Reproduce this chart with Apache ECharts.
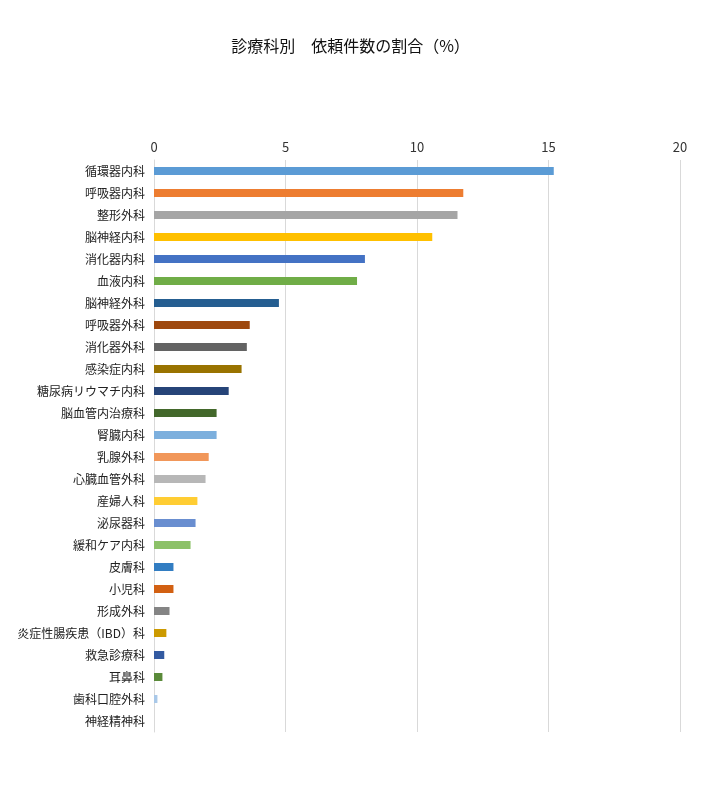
<!DOCTYPE html>
<html>
<head>
<meta charset="utf-8">
<script src="https://cdn.jsdelivr.net/npm/echarts@6/dist/echarts.min.js"></script>
<style>
html,body{margin:0;padding:0;background:#fff;}
#c{width:701px;height:790px;}
</style>
</head>
<body>
<div id="c"></div>
<script>
const categories = ['循環器内科','呼吸器内科','整形外科','脳神経内科','消化器内科','血液内科','脳神経外科','呼吸器外科','消化器外科','感染症内科','糖尿病リウマチ内科','脳血管内治療科','腎臓内科','乳腺外科','心臓血管外科','産婦人科','泌尿器科','緩和ケア内科','皮膚科','小児科','形成外科','炎症性腸疾患（IBD）科','救急診療科','耳鼻科','歯科口腔外科','神経精神科'];
const values = [15.2,11.76,11.54,10.58,8.02,7.72,4.75,3.64,3.53,3.33,2.84,2.38,2.38,2.08,1.96,1.65,1.58,1.39,0.74,0.74,0.59,0.47,0.39,0.32,0.13,0];
const barColors = ['#5B9BD5','#ED7D31','#A5A5A5','#FFC000','#4472C4','#70AD47','#255E91','#9E480E','#636363','#997300','#264478','#43682B','#7CAFDD','#F1975A','#B7B7B7','#FFCD33','#698ED0','#8CC168','#327DC2','#D26012','#848484','#CC9A00','#335AA1','#5A8A39','#A9C8E8','#F4B183'];
const xTicks = [0,5,10,15,20];

const chart = echarts.init(document.getElementById('c'));
const font = '"Noto Sans CJK JP", "Noto Sans", sans-serif';
chart.setOption({
  animation:false,
  backgroundColor:'#fff',
  title:{
    text:'診療科別　依頼件数の割合（%）',
    left:'center', top:33,
    textStyle:{fontSize:16,fontWeight:'normal',color:'#111',fontFamily:font}
  },
  grid:{left:154,right:21,top:160,bottom:58,containLabel:false},
  xAxis:{
    type:'value', position:'top', min:xTicks[0], max:xTicks[xTicks.length-1], interval:5,
    axisLine:{show:false}, axisTick:{show:false},
    axisLabel:{color:'#333',fontSize:13,fontFamily:font,margin:6},
    splitLine:{lineStyle:{color:'#D9D9D9',width:1}}
  },
  yAxis:{
    type:'category', data:categories, inverse:true,
    axisLine:{lineStyle:{color:'#D9D9D9'}}, axisTick:{show:false},
    axisLabel:{color:'#222',fontSize:12,fontFamily:font,margin:9}
  },
  series:[{
    type:'bar', barWidth:8,
    data: values.map((v,i)=>({value:v,itemStyle:{color:barColors[i]}}))
  }]
});
</script>
</body>
</html>
